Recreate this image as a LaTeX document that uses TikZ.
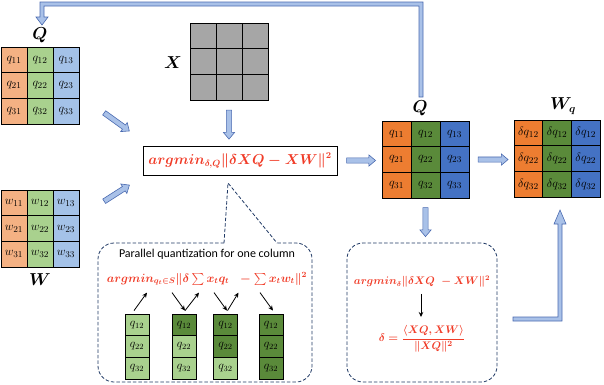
\documentclass[tikz,border=0pt]{standalone}
\usepackage{amsmath, amssymb, bm}
\usepackage{fontspec}
\newfontfamily\calibri{Carlito}
\usepackage{tikz}
\usetikzlibrary{arrows.meta, shapes.arrows, calc}

\definecolor{lorange}{HTML}{F4B183}
\definecolor{lgreen}{HTML}{A9D18E}
\definecolor{lblue}{HTML}{A4C2E8}
\definecolor{dorange}{HTML}{ED7D31}
\definecolor{dgreen}{HTML}{5A8A3A}
\definecolor{dblue}{HTML}{4472C4}
\definecolor{xgray}{HTML}{A6A6A6}
\definecolor{arrowfill}{HTML}{A9C1E8}
\definecolor{arrowdraw}{HTML}{4A6AB0}
\definecolor{formred}{HTML}{F03C28}
\definecolor{dashnavy}{HTML}{1F3864}

\begin{document}
\begin{tikzpicture}[
    x=1pt, y=-1pt,
    cell/.style={draw=black, line width=0.8pt, minimum width=26pt, minimum height=25.7pt, inner sep=0pt, font=\fontsize{12.5}{14}\selectfont},
    qcell/.style={cell, minimum width=29pt},
    wcell/.style={cell, minimum width=28.7pt},
    pcell/.style={cell, minimum width=24pt, minimum height=21.7pt, font=\fontsize{12}{14}\selectfont},
    lab/.style={font=\fontsize{16}{18}\selectfont},
    barrow/.style={single arrow, draw=arrowdraw, fill=arrowfill, line width=0.6pt, inner xsep=0pt, inner ysep=2.3pt, single arrow head extend=3pt, single arrow head indent=0pt, single arrow tip angle=80, sloped, allow upside down},
    lshaft/.style={draw=arrowdraw, fill=arrowfill, line width=0.6pt},
    sarrow/.style={-{Stealth[length=5pt, width=4.5pt]}, line width=0.8pt},
    dbox/.style={draw=dashnavy, line width=0.8pt, dash pattern=on 3.5pt off 2pt},
    red formula/.style={text=formred, font=\boldmath, inner sep=1pt}
]
    \useasboundingbox (0,0) rectangle (604,384);

    % Q (left)
    \foreach \r in {1,2,3}
      \foreach \c/\col in {1/lorange,2/lgreen,3/lblue}
        \node[cell, fill=\col] (ql\r\c) at ({1+13+26*(\c-1)}, {47+12.85+25.7*(\r-1)}) {$q_{\r\c}$};
    \node[lab] (qllab) at (40,35) {$\bm{Q}$};

    % W
    \foreach \r in {1,2,3}
      \foreach \c/\col in {1/lorange,2/lgreen,3/lblue}
        \node[cell, fill=\col] (w\r\c) at ({1+13+26*(\c-1)}, {190+12.85+25.7*(\r-1)}) {$w_{\r\c}$};
    \node[lab] (wlab) at (40,280) {$\bm{W}$};

    % X
    \foreach \r in {1,2,3}
      \foreach \c in {1,2,3}
        \node[cell, fill=xgray] (x\r\c) at ({190+13+26*(\c-1)}, {23+12.85+25.7*(\r-1)}) {};
    \node[lab] (xlab) at (173,63) {$\bm{X}$};

    % Objective
    \node[draw=black, line width=0.8pt, minimum width=194pt, minimum height=29pt, red formula, font=\fontsize{13.5}{16}\selectfont\boldmath] (main) at (240,160.5)
        {$argmin_{\delta,Q}\|\delta XQ-XW\|^2$};

    % Q (right)
    \foreach \r in {1,2,3}
      \foreach \c/\col in {1/dorange,2/dgreen,3/dblue}
        \node[qcell, fill=\col] (qr\r\c) at ({382+14.5+29*(\c-1)}, {121+12.85+25.7*(\r-1)}) {$q_{\r\c}$};
    \node[lab] (qrlab) at (420,108) {$\bm{Q}$};

    % W_q
    \foreach \r in {1,2,3}
      \foreach \c/\col in {1/dorange,2/dgreen,3/dblue}
        \node[wcell, fill=\col] (wq\r\c) at ({514+14.35+28.7*(\c-1)}, {120+12.85+25.7*(\r-1)}) {$\delta q_{\r2}$};
    \node[lab] (wqlab) at (563,106) {$\bm{W_q}$};

    % Scale factor box
    \node[dbox, rounded corners=16pt, minimum width=150pt, minimum height=139pt] (rbox) at (422,312.5) {};
    \node[red formula, font=\fontsize{10.5}{12}\selectfont\boldmath] (rf1) at (422,282) {$argmin_{\delta}\|\delta XQ\ -XW\|^2$};
    \node[red formula, font=\fontsize{11}{13}\selectfont\boldmath] (rf2) at (422,339) {$\delta=\dfrac{\langle XQ,XW\rangle}{\|XQ\|^2}$};
    \draw[sarrow] (rf1.south) ++(-1,5) -- (421,317);

    % Block arrows
    \coordinate (a1) at (103,112);  \coordinate (b1) at (128,130);
    \coordinate (a2) at (103,202);  \coordinate (b2) at (128,186);
    \path (a1) -- node[barrow, minimum height=31pt] {} (b1);
    \path (a2) -- node[barrow, minimum height=30pt] {} (b2);
    \path (x32.south) -- node[barrow, minimum height=29pt] {} (x32.south |- main.north);
    \path (main.east) -- node[barrow, minimum height=29pt] {} (main.east -| qr21.west);
    \path (qr23.east) -- node[barrow, minimum height=30pt] {} (qr23.east -| wq21.west);
    \path (qr32.south) -- node[barrow, minimum height=29pt] {} (qr32.south |- rbox.north);

    % Feedback arrows
    \draw[lshaft] (419,97) -- (419,6) -- (44,6) -- (44,17) -- (48,17) -- (42,25) -- (36,17) -- (40,17) -- (40,2) -- (423,2) -- (423,97) -- cycle;
    \draw[lshaft] (513,317) -- (558,317) -- (558,224) -- (554,224) -- (560,210) -- (566,224) -- (562,224) -- (562,321) -- (513,321) -- cycle;

    % Parallel quantization callout
    \draw[dbox, rounded corners=16pt] (224,243) -- (98,243) -- (98,382) -- (312,382) -- (312,243) -- (277,243);
    \draw[dbox] (224,243) -- (228,183) -- (277,243);
    \node[font=\calibri\fontsize{12}{14}\selectfont, inner sep=0.5pt] (cap) at (207,254) {Parallel quantization for one column};
    \node[red formula, font=\fontsize{12}{14}\selectfont\boldmath] (lform) at (207,279)
        {$argmin_{q_t\in S}\|\delta\sum x_t q_t\ \ -\sum x_t w_t\|^2$};

    \foreach \k/\xc/\pat in {1/137/{lgreen,lgreen,lgreen}, 2/184/{dgreen,lgreen,lgreen}, 3/225.5/{dgreen,dgreen,lgreen}, 4/271/{dgreen,dgreen,dgreen}}
      \foreach \col [count=\r] in \pat
        \node[pcell, fill=\col] (c\k\r) at (\xc, {314+10.85+21.7*(\r-1)}) {$q_{\r2}$};

    \draw[sarrow] ([shift={(-3,-3)}]c11.north) -- ++(13,-18);
    \draw[sarrow] ([shift={(-12,-21)}]c21.north) -- ([shift={(1,-3)}]c21.north);
    \draw[sarrow] ([shift={(1,-3)}]c21.north) -- ++(14,-18);
    \draw[sarrow] ([shift={(-11.5,-21)}]c31.north) -- ([shift={(1.5,-3)}]c31.north);
    \draw[sarrow] ([shift={(2,-3)}]c31.north) -- ++(11,-18);
    \draw[sarrow] ([shift={(-11,-21)}]c41.north) -- ([shift={(2,-3)}]c41.north);
\end{tikzpicture}
\end{document}
